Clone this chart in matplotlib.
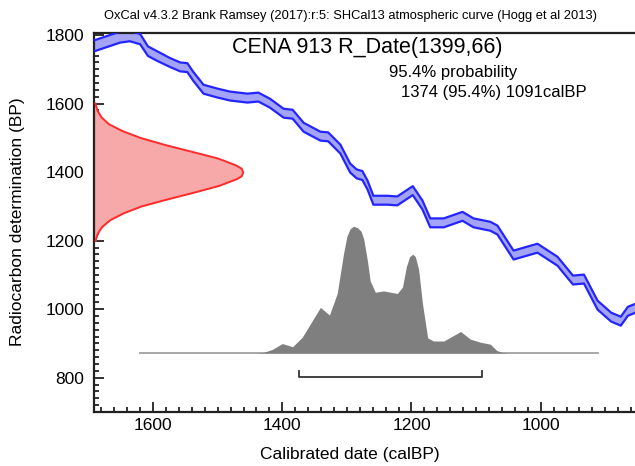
import matplotlib
matplotlib.use('Agg')
import matplotlib.pyplot as plt
import numpy as np
from matplotlib.ticker import MultipleLocator

plt.rcParams['font.family'] = ['Liberation Sans', 'DejaVu Sans']

# ---------------- data ----------------
# calibration curve (SHCal13): calendar age (calBP) vs radiocarbon age (BP)
cal_bp = [1692, 1651, 1636, 1620, 1608, 1594, 1574, 1558, 1547, 1538, 1522, 1501,
          1481, 1454, 1437, 1419, 1398, 1384, 1367, 1341, 1329, 1310, 1295, 1285,
          1276, 1268, 1259, 1237, 1222, 1198, 1183, 1171, 1150, 1121, 1104, 1078,
          1067, 1042, 1005, 974, 950, 933, 912, 891, 876, 865, 853]
c14_bp = [1768, 1794, 1797, 1788, 1753, 1739, 1720, 1707, 1705, 1680, 1642, 1631,
          1622, 1616, 1619, 1601, 1572, 1569, 1531, 1505, 1503, 1467, 1412, 1395,
          1390, 1362, 1318, 1318, 1316, 1346, 1304, 1252, 1252, 1271, 1252, 1242,
          1231, 1158, 1178, 1140, 1085, 1088, 1012, 977, 965, 994, 1003]
c14_err = [16, 16, 15, 15, 14, 14, 13, 13, 13, 13, 13, 13,
           13, 13, 13, 13, 13, 13, 13, 13, 13, 13, 13, 13,
           13, 13, 13, 13, 13, 13, 13, 13, 13, 13, 13, 13,
           13, 13, 13, 13, 13, 13, 13, 13, 13, 13, 13]

# radiocarbon measurement R_Date(1399, 66): relative probability vs BP
meas_bp = [1600, 1580, 1560, 1540, 1520, 1500, 1480, 1460, 1440, 1420, 1410, 1399,
           1388, 1380, 1360, 1340, 1320, 1300, 1280, 1260, 1240, 1220, 1200]
meas_p = [0.01, 0.023, 0.05, 0.10, 0.19, 0.31, 0.47, 0.65, 0.83, 0.95, 0.99, 1.0,
          0.99, 0.96, 0.84, 0.67, 0.49, 0.32, 0.20, 0.11, 0.055, 0.025, 0.011]

# calibrated date: relative probability vs calBP
post_bp = [1620, 1440, 1429, 1415, 1400, 1384, 1369, 1353, 1341, 1327, 1315, 1305,
           1300, 1295, 1290, 1284, 1278, 1274, 1268, 1264, 1256, 1243, 1222, 1214,
           1208, 1203, 1198, 1194, 1189, 1183, 1175, 1166, 1150, 1124, 1109, 1093,
           1078, 1068, 1059, 1050, 912]
post_p = [0, 0, 0.005, 0.03, 0.075, 0.05, 0.126, 0.26, 0.36, 0.30, 0.47, 0.79,
          0.92, 0.98, 1.0, 0.99, 0.96, 0.9, 0.72, 0.57, 0.48, 0.49, 0.47, 0.52,
          0.68, 0.76, 0.78, 0.76, 0.66, 0.39, 0.12, 0.095, 0.095, 0.17, 0.11, 0.085,
          0.07, 0.02, 0.005, 0, 0]

range_from = 1374
range_to = 1091

title = "OxCal v4.3.2 Brank Ramsey (2017):r:5: SHCal13 atmospheric curve (Hogg et al 2013)"
sample = "CENA 913 R_Date(1399,66)"
prob_line = "95.4% probability"
range_line = "1374 (95.4%) 1091calBP"
xlabel = "Calibrated date (calBP)"
ylabel = "Radiocarbon determination (BP)"
xticks = [1600, 1400, 1200, 1000]
yticks = [800, 1000, 1200, 1400, 1600, 1800]

# ---------------- figure ----------------
W, H = 635, 466
fig = plt.figure(figsize=(W / 100, H / 100), dpi=100)
ax = fig.add_axes([94 / W, 54 / H, 541 / W, 379 / H])
XL = (1691.5, 854)
YL = (700, 1806)
ax.set_xlim(*XL)
ax.set_ylim(*YL)

# calibration curve band
cal = np.array(cal_bp, float)
c14 = np.array(c14_bp, float)
err = np.array(c14_err, float)
blue = '#2424ff'
ax.fill_between(cal, c14 - err, c14 + err, color='#a3a3f7', lw=0, zorder=2)
ax.plot(cal, c14 + err, color=blue, lw=1.6, zorder=3, solid_joinstyle='round')
ax.plot(cal, c14 - err, color=blue, lw=1.6, zorder=3, solid_joinstyle='round')

# measurement distribution on the y axis
amp = 231.0
mx = XL[0] - amp * np.array(meas_p)
ax.fill_betweenx(meas_bp, XL[0], mx, color='#f7a8a8', lw=0, zorder=2)
ax.plot(mx, meas_bp, color='#ff2a2a', lw=1.4, zorder=3)

# calibrated distribution
base = 872.0
height = 370.0
pp = np.array(post_p)
ax.plot([post_bp[0], post_bp[-1]], [base, base], color='#a0a0a0', lw=1.3, zorder=2)
ax.fill_between(post_bp, base, base + height * pp, color='#7f7f7f', lw=0, zorder=3)

# range bracket
ax.plot([range_from, range_from, range_to, range_to], [820, 803, 803, 820],
        color='#333333', lw=1.3, zorder=3)

# axes styling
ax.set_xticks(xticks)
ax.set_yticks(yticks)
ax.xaxis.set_minor_locator(MultipleLocator(20))
ax.yaxis.set_minor_locator(MultipleLocator(20))
ax.tick_params(which='both', direction='in', top=False, right=False,
               width=1.3, color='#222222')
ax.tick_params(which='major', length=7, labelsize=12.5)
ax.tick_params(axis='x', which='major', pad=4)
ax.tick_params(axis='y', which='major', pad=7)
ax.tick_params(which='minor', length=3.5)
for s in ['left', 'bottom', 'top']:
    ax.spines[s].set_linewidth(1.6)
    ax.spines[s].set_color('#222222')
ax.spines['right'].set_visible(False)

fig.text(18 / W, 1 - 222 / H, ylabel, rotation=90, ha='center', va='center', fontsize=12.5)
fig.text(350 / W, 1 - 455 / H, xlabel, ha='center', va='center', fontsize=12.5)

fig.text(350 / W, 1 - 16 / H, title, ha='center', va='center', fontsize=9.3)
fig.text(232 / W, 1 - 47 / H, sample, ha='left', va='center', fontsize=15.5)
fig.text(389 / W, 1 - 72 / H, prob_line, ha='left', va='center', fontsize=12)
fig.text(401 / W, 1 - 93 / H, range_line, ha='left', va='center', fontsize=12)

fig.savefig('out.png', dpi=100)
